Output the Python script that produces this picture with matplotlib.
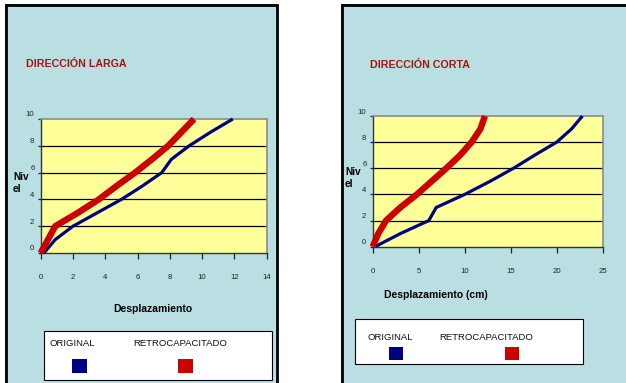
import matplotlib
matplotlib.use("Agg")
import matplotlib.pyplot as plt
from matplotlib.patches import Rectangle
from matplotlib.transforms import ScaledTranslation

plt.rcParams['font.family'] = ['Liberation Sans', 'DejaVu Sans']

# Storey levels and lateral displacements
niveles = [0, 1, 2, 3, 4, 5, 6, 7, 8, 9, 10]
larga_original = [0.2, 0.9, 2.0, 3.5, 5.0, 6.3, 7.5, 8.1, 9.2, 10.5, 11.9]
larga_retro = [0.0, 0.45, 0.9, 2.3, 3.6, 4.7, 5.85, 6.9, 7.9, 8.7, 9.5]
corta_original = [0.25, 3.0, 6.1, 6.9, 10.0, 12.75, 15.3, 17.6, 20.0, 21.6, 22.8]
corta_retro = [0.0, 0.6, 1.45, 3.0, 4.8, 6.4, 8.0, 9.5, 10.75, 11.7, 12.2]

larga_xticks = [0, 2, 4, 6, 8, 10, 12, 14]
corta_xticks = [0, 5, 10, 15, 20, 25]
yticks = [0, 2, 4, 6, 8, 10]

serie_labels = ["ORIGINAL", "RETROCAPACITADO"]

W, H = 626, 383
DPI = 100
BG = '#B9DFE3'
YELLOW = '#FFFF99'
BLUE = '#000080'
RED = '#CC0000'
TITLE_RED = '#A31515'

fig = plt.figure(figsize=(W / DPI, H / DPI), dpi=DPI)
fig.patch.set_facecolor('white')

# Pixel-space overlay for the panel frames, titles and legend boxes
bg = fig.add_axes([0, 0, 1, 1])
bg.set_xlim(0, W)
bg.set_ylim(H, 0)
bg.axis('off')


def panel(x0, y0, x1, y1):
    bg.add_patch(Rectangle((x0 - 1, y0 - 1), x1 - x0, y1 - y0 + 10,
                           facecolor='#888888', edgecolor='none', zorder=0))
    bg.add_patch(Rectangle((x0, y0), x1 - x0, y1 - y0 + 10,
                           facecolor=BG, edgecolor='black', lw=2.0, zorder=1))


panel(6, 5, 277, H)
panel(342, 5, W + 20, H)


def px_axes(x0, y0, x1, y1):
    return fig.add_axes([x0 / W, 1 - y1 / H, (x1 - x0) / W, (y1 - y0) / H])


def chart(ax, x_orig, x_retro, xticks):
    ax.set_facecolor(YELLOW)
    ax.set_xlim(xticks[0], xticks[-1])
    ax.set_ylim(0, 10)
    ax.set_xticks(xticks)
    ax.set_yticks(yticks)
    for yv in yticks[1:-1]:
        ax.axhline(yv, color='black', lw=0.9, zorder=1)
    ax.plot(x_orig, niveles, color=BLUE, lw=2.3, zorder=3, clip_on=False,
            solid_capstyle='butt', solid_joinstyle='round')
    ax.plot(x_retro, niveles, color=RED, lw=4.6, zorder=4, clip_on=False,
            solid_capstyle='butt', solid_joinstyle='round')
    for side in ('top', 'right'):
        ax.spines[side].set_color('#8c8c8c')
        ax.spines[side].set_linewidth(1.2)
    for side in ('left', 'bottom'):
        ax.spines[side].set_color('#333333')
        ax.spines[side].set_linewidth(1.0)
    ax.tick_params(axis='x', direction='out', length=4, width=0.9,
                   pad=11, labelsize=5.6, colors='#222222')
    ax.tick_params(axis='y', direction='out', length=2.5, width=0.9,
                   pad=2, labelsize=5.6, colors='#222222')
    off = ScaledTranslation(0, 5 / DPI, fig.dpi_scale_trans)
    for lab in ax.get_yticklabels():
        lab.set_transform(lab.get_transform() + off)


ax1 = px_axes(40.7, 119, 266.7, 253)
chart(ax1, larga_original, larga_retro, larga_xticks)
ax2 = px_axes(372.7, 116, 602.7, 246.7)
chart(ax2, corta_original, corta_retro, corta_xticks)

# Titles and axis captions
bg.text(26, 64, "DIRECCIÓN LARGA", color=TITLE_RED, fontsize=7.7, fontweight='bold',
        ha='left', va='center')
bg.text(370, 65, "DIRECCIÓN CORTA", color=TITLE_RED, fontsize=7.7, fontweight='bold',
        ha='left', va='center')
bg.text(13, 183, "Niv\nel", fontsize=7.3, fontweight='bold', ha='left', va='center',
        linespacing=1.2)
bg.text(345, 178, "Niv\nel", fontsize=7.3, fontweight='bold', ha='left', va='center',
        linespacing=1.2)
bg.text(153, 309, "Desplazamiento", fontsize=7.5, fontweight='bold', ha='center', va='center')
bg.text(436, 295, "Desplazamiento (cm)", fontsize=7.5, fontweight='bold', ha='center', va='center')


def legend_box(x0, y0, x1, y1, txt_y, txt_x, sq_x, sq_y, sq):
    bg.add_patch(Rectangle((x0 + 1, y0 + 1), x1 - x0, y1 - y0,
                           facecolor='#777777', edgecolor='none', zorder=2))
    bg.add_patch(Rectangle((x0, y0), x1 - x0, y1 - y0,
                           facecolor='white', edgecolor='black', lw=0.8, zorder=3))
    for lbl, tx, sx, col in zip(serie_labels, txt_x, sq_x, [BLUE, RED]):
        bg.text(tx, txt_y, lbl, fontsize=6.8, ha='left', va='center', zorder=4,
                color='#111111')
        bg.add_patch(Rectangle((sx, sq_y), sq, sq - 1, facecolor=col,
                               edgecolor='none', zorder=4))


legend_box(44, 331, 272, 380, 343, [50, 133], [72, 178], 359, 15)
legend_box(355, 319, 583, 364, 337, [367, 439], [389, 505], 347, 14)

fig.savefig("out.png", dpi=DPI, facecolor=fig.get_facecolor())
